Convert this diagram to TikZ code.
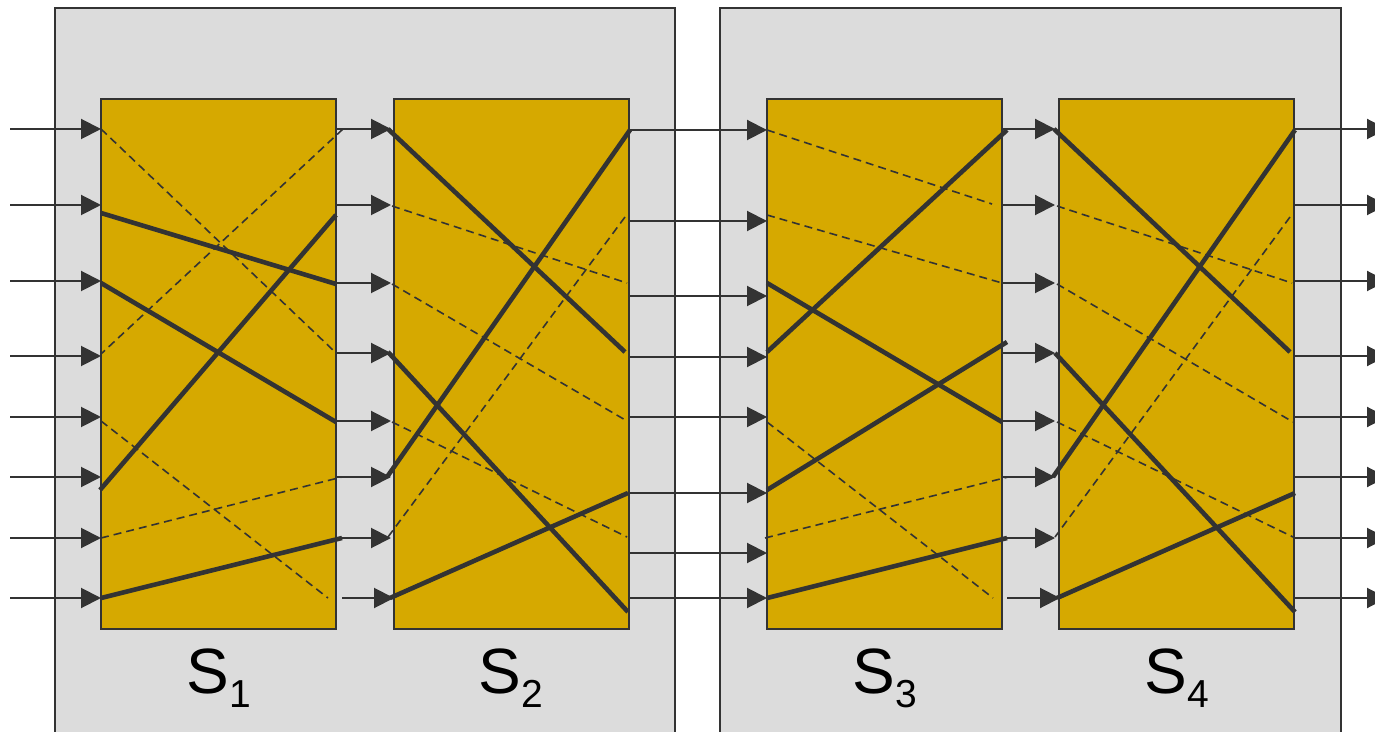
\documentclass[tikz,border=0pt]{standalone}
\usepackage{fontspec}
\setmainfont{Liberation Sans}
\usetikzlibrary{arrows.meta}
\definecolor{panelgray}{HTML}{DCDCDC}
\definecolor{switchgold}{HTML}{D6A900}
\definecolor{ink}{HTML}{333333}
\newcommand{\stagelabel}[1]{S\raisebox{-7pt}{\fontsize{19.5}{20}\selectfont #1}}

\begin{document}
\begin{tikzpicture}[x=0.5pt,y=-0.5pt,
  panel/.style={fill=panelgray,draw=ink,line width=1pt,inner sep=0pt,minimum height=381pt},
  switchbox/.style={fill=switchgold,draw=ink,line width=1pt,inner sep=0pt,minimum width=117.5pt,minimum height=265pt},
  conn/.style={draw=ink,line width=1pt,-{Triangle[length=10pt,width=10pt]}},
  route/.style={draw=ink,line width=2.3pt},
  idle/.style={draw=ink,line width=0.8pt,dash pattern=on 4pt off 2.5pt},
  lbl/.style={anchor=base,inner sep=0pt,font=\fontsize{32}{36}\selectfont}]

\clip (0,0) rectangle (1375,732);

% two grey stage panels
\node[panel,minimum width=310pt] (p1) at (365,389) {};
\node[panel,minimum width=310.5pt] (p2) at (1030.5,389) {};

% the four switch boxes
\node[switchbox] (s1) at (218.5,364) {};
\node[switchbox] (s2) at (511,364) {};
\node[switchbox] (s3) at (884.5,364) {};
\node[switchbox] (s4) at (1176.5,364) {};

% stage labels
\node[lbl] (l1) at (218.5,693) {\stagelabel{1}};
\node[lbl] (l2) at (511,693) {\stagelabel{2}};
\node[lbl] (l3) at (884.5,693) {\stagelabel{3}};
\node[lbl] (l4) at (1176.5,693) {\stagelabel{4}};

% inputs into S1
\foreach \y [count=\i] in {129,205,281,356,417,477,538,598}{
  \coordinate (in\i) at (10,\y);
  \coordinate (s1i\i) at (101,\y);
  \draw[conn] (in\i) -- (s1i\i);
}
% S1 -> S2
\foreach \y/\xa/\xb [count=\i] in {129/336/391,205/336/391,283/336/391,353/336/391,421/336/391,477/336/391,538/336/391,598/342/394}{
  \coordinate (s1o\i) at (\xa,\y);
  \coordinate (s2i\i) at (\xb,\y);
  \draw[conn] (s1o\i) -- (s2i\i);
}
% S2 -> S3 (across the gap between the panels)
\foreach \y [count=\i] in {130,221,296,357,417,493,553,598}{
  \coordinate (s2o\i) at (628,\y);
  \coordinate (s3i\i) at (767,\y);
  \draw[conn] (s2o\i) -- (s3i\i);
}
% S3 -> S4
\foreach \y/\xa/\xb [count=\i] in {129/1002/1055,205/1002/1055,283/1002/1055,353/1002/1055,421/1002/1055,477/1002/1055,538/1002/1055,598/1007/1060}{
  \coordinate (s3o\i) at (\xa,\y);
  \coordinate (s4i\i) at (\xb,\y);
  \draw[conn] (s3o\i) -- (s4i\i);
}
% outputs of S4
\foreach \y [count=\i] in {129,205,281,356,417,477,538,598}{
  \coordinate (s4o\i) at (1294,\y);
  \coordinate (out\i) at (1387,\y);
  \draw[conn] (s4o\i) -- (out\i);
}

% active paths through the switches
\foreach \ax/\ay/\bx/\by in {
  101/213/336/284, 101/283/336/422, 336/215/100/490, 101/598/342/538,
  388/129/625/352, 630/130/387/477, 388/352/628/612, 390/598/628/493,
  767/352/1007/130, 767/283/1002/422, 767/490/1007/342, 767/598/1007/538,
  1054/129/1290/352, 1295/130/1053/477, 1055/353/1295/612, 1057/598/1295/493}{
  \coordinate (ra) at (\ax,\ay);
  \coordinate (rb) at (\bx,\by);
  \draw[route] (ra) -- (rb);
}
% idle paths through the switches
\foreach \ax/\ay/\bx/\by in {
  101/129/335/352, 343/129/101/354, 101/421/328/598, 101/538/342/477,
  392/206/627/283, 392/284/627/421, 625/217/388/537, 392/422/627/537,
  767/130/992/204, 767/215/1002/283, 767/422/993/598, 765/538/1008/477,
  1057/206/1292/283, 1057/284/1293/422, 1290/217/1055/537, 1057/422/1293/537}{
  \coordinate (ia) at (\ax,\ay);
  \coordinate (ib) at (\bx,\by);
  \draw[idle] (ia) -- (ib);
}
\end{tikzpicture}
\end{document}
